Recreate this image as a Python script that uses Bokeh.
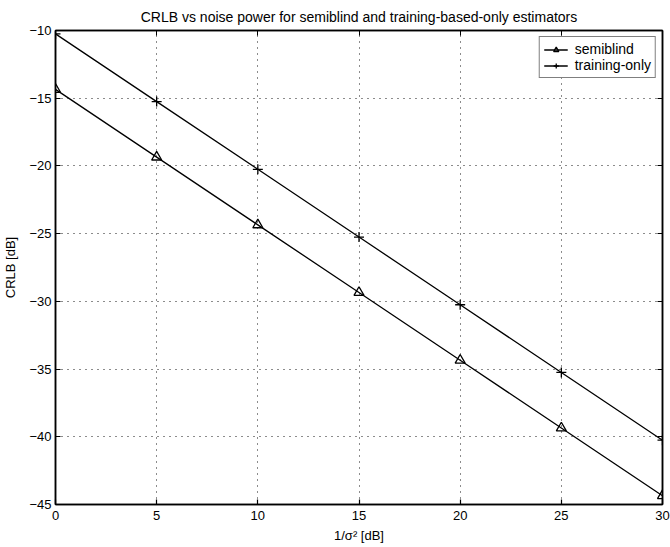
from bokeh.plotting import figure
from bokeh.models import LinearAxis, Range1d, FixedTicker, Legend, LegendItem
from bokeh.embed import file_html
from bokeh.resources import INLINE

snr_db = [0, 5, 10, 15, 20, 25, 30]
semiblind = [-14.35, -19.35, -24.35, -29.35, -34.35, -39.35, -44.35]
training_only = [-10.25, -15.25, -20.25, -25.25, -30.25, -35.25, -40.25]
x_ticks = [0, 5, 10, 15, 20, 25, 30]
y_ticks = [-45, -40, -35, -30, -25, -20, -15, -10]

FONT = "Liberation Sans"

p = figure(width=670, height=547, output_backend="svg", toolbar_location=None,
           x_range=Range1d(0, 30), y_range=Range1d(-45, -10),
           min_border_left=54, min_border_right=8, min_border_top=30, min_border_bottom=43,
           title="CRLB vs noise power for semiblind and training-based-only estimators")
p.title.align = "center"
p.title.text_font = FONT
p.title.text_font_size = "14px"
p.title.text_font_style = "normal"
p.title.text_color = "black"
p.title.offset = 0
p.title.standoff = 11
p.outline_line_color = "black"
p.outline_line_width = 1.5
p.background_fill_color = "white"
p.border_fill_color = "white"

for ax in (p.xaxis[0], p.yaxis[0]):
    ax.major_label_text_font = FONT
    ax.major_label_text_font_size = "13px"
    ax.major_label_text_color = "black"
    ax.axis_label_text_font = FONT
    ax.axis_label_text_font_size = "13px"
    ax.axis_label_text_font_style = "normal"
    ax.axis_label_text_color = "black"
    ax.major_tick_in = 5
    ax.major_tick_out = 0
    ax.minor_tick_in = 0
    ax.minor_tick_out = 0
    ax.axis_line_width = 1.5
    ax.axis_line_color = "black"
    ax.major_tick_line_color = "black"
    ax.major_tick_line_width = 1.2
p.xaxis[0].ticker = FixedTicker(ticks=x_ticks)
p.yaxis[0].ticker = FixedTicker(ticks=y_ticks)
p.xaxis[0].axis_label = "1/σ² [dB]"
p.yaxis[0].axis_label = "CRLB [dB]"
p.xaxis[0].major_label_standoff = 6
p.yaxis[0].major_label_standoff = 4
p.xaxis[0].axis_label_standoff = 5
p.yaxis[0].axis_label_standoff = 8

top_ax = LinearAxis(ticker=FixedTicker(ticks=x_ticks),
                    major_label_overrides={t: "" for t in x_ticks},
                    major_tick_in=5, major_tick_out=0, minor_tick_in=0, minor_tick_out=0,
                    axis_line_width=1.5, major_label_standoff=0)
right_ax = LinearAxis(ticker=FixedTicker(ticks=y_ticks),
                      major_label_overrides={t: "" for t in y_ticks},
                      major_tick_in=5, major_tick_out=0, minor_tick_in=0, minor_tick_out=0,
                      axis_line_width=1.5, major_label_standoff=0)
p.add_layout(top_ax, "above")
p.add_layout(right_ax, "right")

p.xgrid.ticker = FixedTicker(ticks=x_ticks)
p.ygrid.ticker = FixedTicker(ticks=y_ticks)
for g in (p.xgrid[0], p.ygrid[0]):
    g.grid_line_color = "black"
    g.grid_line_dash = "1 5"
    g.grid_line_width = 1
    g.grid_line_alpha = 0.9

l1 = p.line(snr_db, semiblind, line_color="black", line_width=1.3)
m1 = p.scatter(snr_db, semiblind, marker="triangle", size=10, fill_color=None,
               line_color="black", line_width=1.3)
l2 = p.line(snr_db, training_only, line_color="black", line_width=1.3)
m2 = p.scatter(snr_db, training_only, marker="cross", size=10, line_color="black",
               line_width=1.3)

legend = Legend(items=[LegendItem(label="semiblind", renderers=[l1, m1]),
                       LegendItem(label="training-only", renderers=[l2, m2])],
                location="top_right")
legend.label_text_font = FONT
legend.label_text_font_size = "14px"
legend.label_text_color = "black"
legend.border_line_color = "black"
legend.border_line_width = 1.2
legend.background_fill_alpha = 1
legend.margin = 6
legend.padding = 4
legend.spacing = 0
legend.glyph_width = 24
legend.glyph_height = 13
legend.label_height = 13
legend.label_standoff = 7
p.add_layout(legend)

open("out.html", "w").write(file_html(p, INLINE))
